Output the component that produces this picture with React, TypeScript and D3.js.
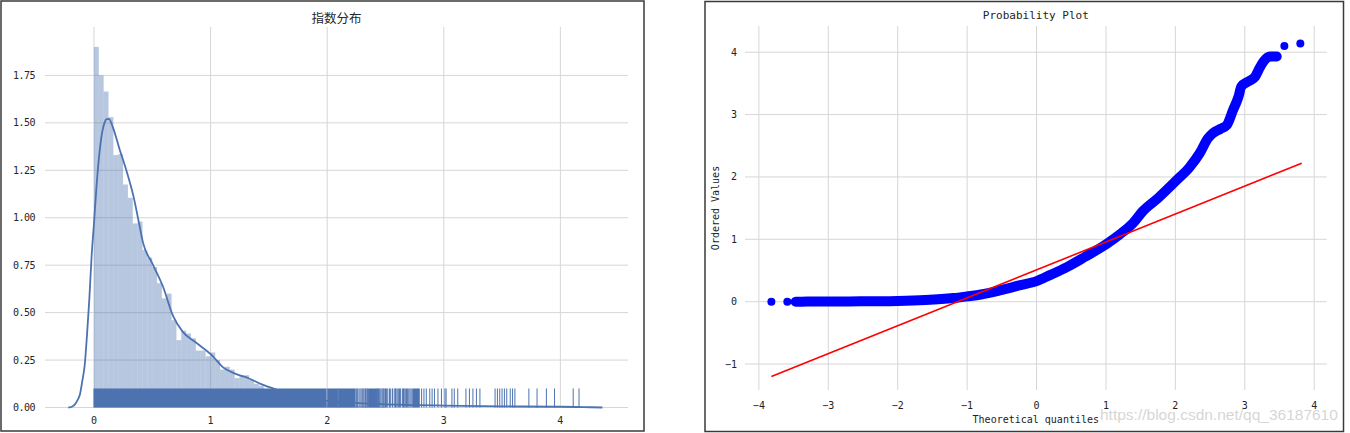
import React from "react";
import * as d3 from "d3";

// ---------- Left chart data (指数分布) ----------
const histBinStart = 0;
const histBinWidth = 0.0416;
const histDensity = [
  1.9, 1.75, 1.665, 1.53, 1.33, 1.335, 1.175, 1.105, 0.97, 0.98,
  0.83, 0.79, 0.74, 0.655, 0.575, 0.6, 0.46, 0.355, 0.405, 0.39,
  0.365, 0.3, 0.3, 0.27, 0.29, 0.25, 0.2, 0.215, 0.2, 0.155,
  0.17, 0.17, 0.145, 0.125, 0.115, 0.095, 0.085, 0.075, 0.07, 0.06,
  0.052, 0.05, 0.044, 0.04, 0.035, 0.03, 0.026, 0.024, 0.02, 0.019,
  0.015, 0.014, 0.012, 0.01, 0.009, 0.008, 0.006, 0.006, 0.005, 0.004,
];
const kdeX = [
  -0.22, -0.19, -0.165, -0.14, -0.12, -0.1, -0.08, -0.06, -0.04, -0.02,
  0.0, 0.02, 0.045, 0.07, 0.09, 0.11, 0.13, 0.16, 0.22, 0.28,
  0.34, 0.39, 0.42, 0.5, 0.59, 0.68, 0.76, 0.88, 1.02, 1.1,
  1.22, 1.33, 1.44, 1.54, 1.7, 1.85, 2.0, 2.3, 2.6, 3.0,
  3.5, 4.0, 4.2, 4.36,
];
const kdeY = [
  0, 0.004, 0.015, 0.04, 0.07, 0.14, 0.22, 0.38, 0.57, 0.8,
  0.97, 1.15, 1.33, 1.45, 1.5, 1.52, 1.52, 1.48, 1.36, 1.245,
  1.11, 0.96, 0.87, 0.76, 0.64, 0.48, 0.4, 0.34, 0.27, 0.215,
  0.176, 0.153, 0.122, 0.1, 0.07, 0.05, 0.035, 0.022, 0.015, 0.01,
  0.006, 0.004, 0.002, 0.0,
];
const rugSpanStart = [0.0, 2.008, 2.1, 2.355, 2.74];
const rugSpanEnd = [1.99, 2.088, 2.24, 2.43, 2.79];
const rugValues = [
  2.0, 2.095, 2.25, 2.258, 2.265, 2.28, 2.29, 2.3, 2.307, 2.315,
  2.325, 2.33, 2.34, 2.345, 2.435, 2.44, 2.45, 2.46, 2.47, 2.478,
  2.485, 2.495, 2.5, 2.51, 2.52, 2.535, 2.545, 2.56, 2.575, 2.585,
  2.59, 2.6, 2.61, 2.62, 2.63, 2.645, 2.655, 2.66, 2.67, 2.68,
  2.69, 2.7, 2.71, 2.72, 2.73, 2.81, 2.83, 2.85, 2.88, 2.9,
  2.92, 2.95, 2.98, 3.01, 3.02, 3.07, 3.09, 3.12, 3.19, 3.22,
  3.25, 3.28, 3.31, 3.44, 3.46, 3.48, 3.5, 3.52, 3.54, 3.57,
  3.59, 3.61, 3.73, 3.8, 3.88, 3.95, 4.11, 4.16,
];
const leftXTicks = [0, 1, 2, 3, 4];
const leftYTicks = [0, 0.25, 0.5, 0.75, 1.0, 1.25, 1.5, 1.75];
const leftTitle = "指数分布";

// ---------- Right chart data (Probability Plot) ----------
const qqTheoretical = [
  -3.82, -3.59, -3.47, -3.3, -3.0, -2.7, -2.4, -2.0, -1.6, -1.2,
  -1.0, -0.8, -0.53, -0.25, 0.0, 0.2, 0.43, 0.7, 1.0, 1.2,
  1.39, 1.53, 1.75, 2.02, 2.2, 2.35, 2.47, 2.54, 2.65, 2.74,
  2.83, 2.91, 2.95, 3.05, 3.15, 3.21, 3.27, 3.36, 3.46, 3.57, 3.8,
];
const qqOrdered = [
  0.0, 0.0, 0.0, 0.001, 0.002, 0.004, 0.007, 0.012, 0.027, 0.058,
  0.085, 0.115, 0.18, 0.26, 0.33, 0.43, 0.55, 0.72, 0.92, 1.08,
  1.26, 1.45, 1.66, 1.95, 2.15, 2.38, 2.62, 2.7, 2.77, 2.83,
  3.07, 3.29, 3.45, 3.53, 3.61, 3.74, 3.85, 3.93, 3.93, 4.1, 4.14,
];
const fitLineX = [-3.82, 3.82];
const fitLineY = [-1.2, 2.22];
const rightXTicks = [-4, -3, -2, -1, 0, 1, 2, 3, 4];
const rightYTicks = [-1, 0, 1, 2, 3, 4];
const rightTitle = "Probability Plot";
const rightXLabel = "Theoretical quantiles";
const rightYLabel = "Ordered Values";
const watermark = "https://blog.csdn.net/qq_36187610";

const SEA_BLUE = "#4c72b0";
const GRID = "#d6d6d6";
const MONO = "'DejaVu Sans Mono', 'Liberation Mono', monospace";

export default function App() {
  // left scales
  const xL = d3.scaleLinear().domain([-0.42, 4.58]).range([45, 628]);
  const yL = d3.scaleLinear().domain([0, 2.005]).range([407.5, 27]);
  // right scales
  const xR = d3.scaleLinear().domain([-4.2, 4.18]).range([745, 1326.7]);
  const yR = d3.scaleLinear().domain([-1.416, 4.42]).range([390, 26]);

  const kdePts: [number, number][] = kdeX.map((x, i) => [x, kdeY[i]]);
  const kdePath = d3
    .line<[number, number]>()
    .x((d) => xL(d[0]))
    .y((d) => yL(d[1]))
    .curve(d3.curveMonotoneX)(kdePts);

  const rugTop = yL(0) - (yL(0) - yL(2.005)) * 0.05;

  const qqPts: [number, number][] = qqTheoretical.map((x, i) => [x, qqOrdered[i]]);
  const bandPts = qqPts.filter((d) => d[0] > -3.5 && d[0] <= 3.47);
  const bandPath = d3
    .line<[number, number]>()
    .x((d) => xR(d[0]))
    .y((d) => yR(d[1]))
    .curve(d3.curveMonotoneX)(bandPts);

  const fmtL = d3.format(".2f");
  const fmtR = (v: number) => (v < 0 ? "\u2212" + Math.abs(v) : String(v));

  return (
    <svg
      width={1350}
      height={433}
      style={{ position: "absolute", left: 0, top: 0, background: "#fff" }}
    >
      <rect x={0} y={0} width={1350} height={433} fill="#fff" />

      {/* ---------------- LEFT CHART ---------------- */}
      <g>
        {leftYTicks.map((t) => (
          <line key={"lgy" + t} x1={45} x2={628} y1={yL(t)} y2={yL(t)} stroke={GRID} strokeWidth={1} />
        ))}
        {leftXTicks.map((t) => (
          <line key={"lgx" + t} x1={xL(t)} x2={xL(t)} y1={27} y2={yL(0)} stroke={GRID} strokeWidth={1} />
        ))}
        {histDensity.map((v, i) => {
          const x0 = xL(histBinStart + i * histBinWidth);
          const x1 = xL(histBinStart + (i + 1) * histBinWidth);
          return (
            <rect
              key={"h" + i}
              x={x0}
              y={yL(v)}
              width={x1 - x0}
              height={yL(0) - yL(v)}
              fill={SEA_BLUE}
              fillOpacity={0.4}
            />
          );
        })}
        <path d={kdePath || ""} fill="none" stroke={SEA_BLUE} strokeWidth={1.8} />
        {rugSpanStart.map((s, i) => (
          <rect
            key={"rs" + i}
            x={xL(s) - 0.5}
            y={rugTop}
            width={xL(rugSpanEnd[i]) - xL(s) + 1}
            height={yL(0) - rugTop}
            fill={SEA_BLUE}
          />
        ))}
        {rugValues.map((v, i) => (
          <line
            key={"rv" + i}
            x1={xL(v)}
            x2={xL(v)}
            y1={rugTop}
            y2={yL(0)}
            stroke={SEA_BLUE}
            strokeWidth={1}
          />
        ))}
        {leftYTicks.map((t) => (
          <text
            key={"lty" + t}
            x={35}
            y={yL(t)}
            textAnchor="end"
            dominantBaseline="central"
            fontFamily={MONO}
            fontSize={10}
            letterSpacing={-0.5}
            fill="#262626"
          >
            {fmtL(t)}
          </text>
        ))}
        {leftXTicks.map((t) => (
          <text
            key={"ltx" + t}
            x={xL(t)}
            y={420}
            textAnchor="middle"
            dominantBaseline="central"
            fontFamily={MONO}
            fontSize={10}
            fill="#262626"
          >
            {t}
          </text>
        ))}
        <text
          x={336.5}
          y={17}
          textAnchor="middle"
          dominantBaseline="central"
          fontFamily="'Noto Sans CJK SC', sans-serif"
          fontSize={12.5}
          fill="#262626"
        >
          {leftTitle}
        </text>
        <rect x={1} y={1} width={643} height={430} fill="none" stroke="#3a3a3a" strokeWidth={1.5} />
      </g>

      {/* ---------------- RIGHT CHART ---------------- */}
      <g>
        {rightYTicks.map((t) => (
          <line key={"rgy" + t} x1={745} x2={1326.7} y1={yR(t)} y2={yR(t)} stroke={GRID} strokeWidth={1} />
        ))}
        {rightXTicks.map((t) => (
          <line key={"rgx" + t} x1={xR(t)} x2={xR(t)} y1={26} y2={390} stroke={GRID} strokeWidth={1} />
        ))}
        <path
          d={bandPath || ""}
          fill="none"
          stroke="#0000ff"
          strokeWidth={10}
          strokeLinecap="round"
          strokeLinejoin="round"
        />
        {qqPts.map((d, i) => (
          <circle key={"qq" + i} cx={xR(d[0])} cy={yR(d[1])} r={4} fill="#0000ff" />
        ))}
        <line
          x1={xR(fitLineX[0])}
          y1={yR(fitLineY[0])}
          x2={xR(fitLineX[1])}
          y2={yR(fitLineY[1])}
          stroke="#ff0000"
          strokeWidth={1.6}
        />
        {rightYTicks.map((t) => (
          <text
            key={"rty" + t}
            x={737}
            y={yR(t)}
            textAnchor="end"
            dominantBaseline="central"
            fontFamily={MONO}
            fontSize={10}
            fill="#222"
          >
            {fmtR(t)}
          </text>
        ))}
        {rightXTicks.map((t) => (
          <text
            key={"rtx" + t}
            x={xR(t)}
            y={405.7}
            textAnchor="middle"
            dominantBaseline="central"
            fontFamily={MONO}
            fontSize={10}
            fill="#222"
          >
            {fmtR(t)}
          </text>
        ))}
        <text
          x={1035.8}
          y={15.5}
          textAnchor="middle"
          dominantBaseline="central"
          fontFamily={MONO}
          fontSize={11}
          fill="#222"
        >
          {rightTitle}
        </text>
        <text
          x={1035.8}
          y={419}
          textAnchor="middle"
          dominantBaseline="central"
          fontFamily={MONO}
          fontSize={10}
          fill="#222"
        >
          {rightXLabel}
        </text>
        <text
          transform={`translate(715,208) rotate(-90)`}
          textAnchor="middle"
          dominantBaseline="central"
          fontFamily={MONO}
          fontSize={10}
          fill="#222"
        >
          {rightYLabel}
        </text>
        <text
          x={1100}
          y={420}
          fontFamily="'Liberation Sans', Arial, sans-serif"
          fontSize={15.5}
          fill="#c8c8c8"
          fillOpacity={0.75}
        >
          {watermark}
        </text>
        <rect x={705} y={1.5} width={638.5} height={430} fill="none" stroke="#3a3a3a" strokeWidth={1.5} />
      </g>
    </svg>
  );
}
